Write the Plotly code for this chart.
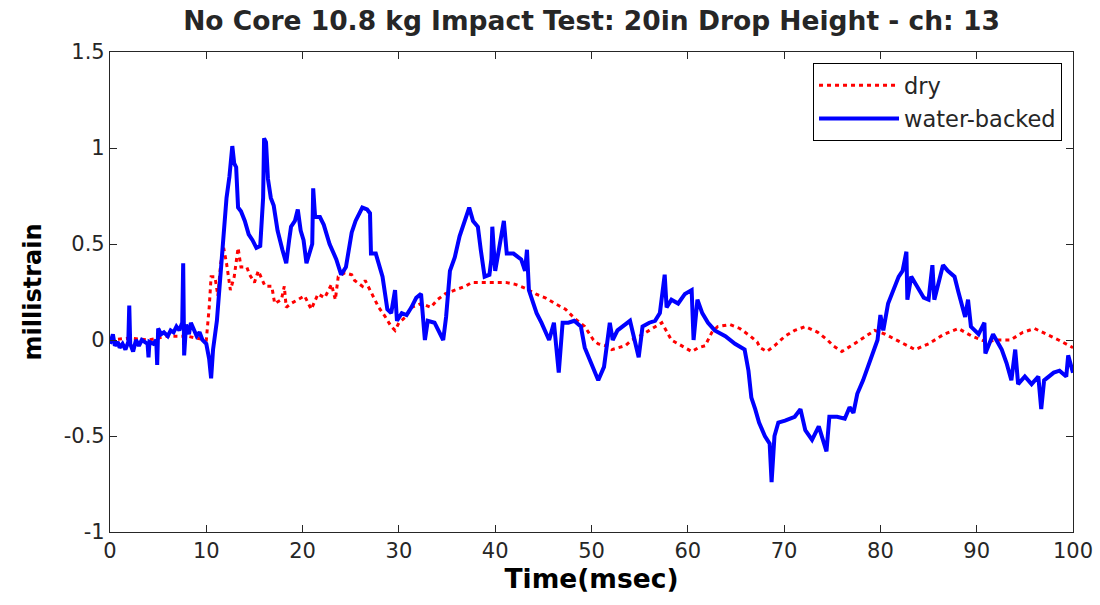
import plotly.graph_objects as go

# water-backed (blue) trace
wet_t = [0.0, 0.3, 0.5, 0.8, 1.0, 1.3, 1.6, 1.9, 2.0, 2.1, 2.4, 2.7, 3.0, 3.3, 3.6, 3.9, 4.0, 4.1, 4.5, 4.8,
         4.9, 5.0, 5.3, 5.6, 6.0, 6.3, 6.6, 6.9, 7.2, 7.5, 7.6, 7.7, 7.9, 8.2, 8.4, 8.7, 9.0, 9.3, 9.6, 10.0,
         10.3, 10.5, 10.7, 11.1, 11.4, 11.8, 12.1, 12.4, 12.7, 12.9, 13.1, 13.3, 13.6, 14.0, 14.4, 14.8, 15.2, 15.6, 15.9, 16.0,
         16.2, 16.4, 16.7, 17.0, 17.4, 17.9, 18.3, 18.6, 18.8, 19.2, 19.5, 19.8, 20.1, 20.4, 20.8, 21.0, 21.1, 21.3, 21.8, 22.2,
         22.8, 23.5, 24.0, 24.5, 25.1, 25.5, 26.2, 26.7, 27.0, 27.1, 27.6, 28.3, 28.8, 29.2, 29.6, 29.8, 30.3, 30.8, 31.3, 31.8,
         32.3, 32.7, 33.0, 33.7, 34.6, 34.9, 35.3, 35.8, 36.3, 36.8, 37.3, 37.7, 38.2, 38.5, 38.9, 39.4, 39.6, 39.7, 40.0, 40.9,
         41.2, 41.9, 42.7, 43.1, 43.3, 43.5, 44.3, 44.8, 45.6, 46.1, 46.6, 47.0, 47.6, 48.2, 48.9, 49.3, 50.0, 50.7, 51.3, 51.9,
         52.2, 52.7, 54.0, 54.9, 55.3, 56.0, 56.6, 57.1, 57.6, 57.8, 58.3, 59.0, 59.7, 60.4, 60.6, 61.0, 61.5, 62.1, 62.8, 63.9,
         64.9, 65.9, 66.3, 66.6, 67.0, 67.4, 68.0, 68.5, 68.7, 69.0, 69.4, 70.1, 71.1, 71.7, 72.2, 72.9, 73.6, 74.4, 74.7, 75.5,
         76.3, 76.8, 77.2, 77.6, 78.2, 78.7, 79.2, 79.7, 80.0, 80.3, 80.8, 81.3, 81.9, 82.3, 82.7, 82.8, 83.2, 83.8, 84.5, 85.0,
         85.4, 85.6, 86.1, 86.5, 87.0, 87.7, 88.1, 88.8, 89.1, 89.4, 90.2, 90.8, 90.9, 91.7, 92.6, 93.1, 93.6, 94.0, 94.3, 95.0,
         95.7, 96.4, 96.7, 97.0, 98.0, 98.6, 99.3, 99.5, 100.0]
wet_v = [-0.02, 0.03, -0.03, -0.01, -0.04, -0.02, -0.05, -0.01, 0.18, -0.02, -0.06, 0.00, -0.03, 0.00, -0.01, -0.02, -0.09, -0.01, -0.02, 0.00,
         -0.13, 0.06, 0.03, 0.04, 0.02, 0.05, 0.04, 0.07, 0.05, 0.09, 0.40, -0.08, 0.08, 0.03, 0.09, 0.05, 0.02, 0.04, 0.00, -0.02,
         -0.10, -0.20, -0.05, 0.10, 0.28, 0.57, 0.74, 0.85, 1.01, 0.92, 0.90, 0.69, 0.67, 0.62, 0.55, 0.52, 0.48, 0.49, 0.74, 1.05,
         1.03, 0.84, 0.74, 0.70, 0.57, 0.47, 0.40, 0.52, 0.59, 0.62, 0.68, 0.57, 0.52, 0.40, 0.48, 0.50, 0.79, 0.64, 0.64, 0.60,
         0.50, 0.42, 0.34, 0.38, 0.56, 0.62, 0.69, 0.68, 0.66, 0.45, 0.45, 0.33, 0.16, 0.14, 0.26, 0.10, 0.14, 0.13, 0.17, 0.22,
         0.24, 0.00, 0.10, 0.09, 0.00, 0.12, 0.36, 0.43, 0.54, 0.62, 0.69, 0.62, 0.59, 0.47, 0.33, 0.34, 0.42, 0.59, 0.36, 0.62,
         0.45, 0.45, 0.42, 0.36, 0.47, 0.26, 0.14, 0.09, 0.00, 0.09, -0.17, 0.09, 0.09, 0.10, 0.07, -0.04, -0.12, -0.21, -0.14, 0.09,
         0.00, 0.05, 0.10, -0.09, 0.07, 0.09, 0.10, 0.14, 0.34, 0.17, 0.21, 0.19, 0.24, 0.26, 0.00, 0.21, 0.14, 0.09, 0.05, 0.02,
         -0.02, -0.05, -0.16, -0.30, -0.36, -0.43, -0.50, -0.54, -0.74, -0.50, -0.43, -0.42, -0.40, -0.36, -0.47, -0.52, -0.45, -0.58, -0.40, -0.40,
         -0.41, -0.35, -0.38, -0.28, -0.21, -0.14, -0.07, 0.00, 0.13, 0.05, 0.19, 0.26, 0.33, 0.36, 0.46, 0.21, 0.33, 0.28, 0.22, 0.21,
         0.39, 0.21, 0.30, 0.39, 0.36, 0.33, 0.25, 0.12, 0.21, 0.07, 0.03, 0.09, -0.07, 0.03, -0.05, -0.12, -0.21, -0.05, -0.23, -0.19,
         -0.23, -0.19, -0.36, -0.21, -0.17, -0.16, -0.19, -0.08, -0.17]

# dry (red dotted) trace
dry_t = [0, 2, 4, 6, 8, 9, 10.0, 10.3, 10.5, 10.9, 11.2, 11.5, 11.8, 12.1, 12.5, 12.9, 13.3, 13.6, 14.2, 14.5,
         15.0, 15.4, 15.8, 16.1, 16.8, 17.1, 17.8, 18.1, 18.3, 18.8, 19.5, 20.2, 20.9, 21.6, 22.3, 23.0, 23.4, 23.7, 24.4, 25.1,
         25.4, 26.2, 26.5, 27.2, 27.9, 28.6, 29.2, 29.6, 30.0, 30.7, 31.3, 32.3, 33.3, 34.0, 34.8, 35.8, 36.9, 37.6, 39.0, 40.0,
         41.1, 42.1, 43.1, 44.2, 45.2, 46.2, 47.3, 48.3, 49.3, 50.2, 50.7, 51.5, 52.1, 52.8, 53.5, 54.2, 55.0, 56.0, 57.3, 58.3,
         59.0, 59.7, 60.4, 61.1, 61.8, 62.5, 63.1, 64.4, 65.4, 66.5, 67.2, 67.5, 68.2, 69.0, 70.1, 71.1, 72.2, 73.5, 74.5, 75.1,
         76.0, 77.3, 78.5, 79.4, 80.5, 82.0, 83.6, 85.0, 86.6, 88.1, 89.5, 91.0, 92.0, 93.5, 94.8, 96.0, 97.3, 98.5, 100.0]
dry_v = [0.00, 0.01, 0.00, 0.02, 0.02, 0.01, 0.00, 0.17, 0.33, 0.33, 0.23, 0.40, 0.48, 0.40, 0.26, 0.33, 0.48, 0.38, 0.38, 0.34,
         0.30, 0.36, 0.31, 0.28, 0.28, 0.19, 0.21, 0.28, 0.17, 0.19, 0.21, 0.23, 0.16, 0.24, 0.22, 0.29, 0.21, 0.33, 0.35, 0.34,
         0.31, 0.28, 0.31, 0.24, 0.17, 0.12, 0.07, 0.05, 0.09, 0.12, 0.17, 0.19, 0.17, 0.21, 0.24, 0.26, 0.28, 0.30, 0.30, 0.30,
         0.30, 0.29, 0.27, 0.24, 0.22, 0.19, 0.16, 0.11, 0.07, 0.00, -0.02, -0.03, -0.05, -0.04, -0.03, 0.00, 0.02, 0.05, 0.09, 0.00,
         -0.02, -0.04, -0.06, -0.04, -0.03, 0.04, 0.07, 0.08, 0.06, 0.02, -0.01, -0.04, -0.06, -0.03, 0.02, 0.05, 0.07, 0.04, 0.00, -0.03,
         -0.06, -0.02, 0.02, 0.05, 0.03, -0.01, -0.05, -0.02, 0.03, 0.06, 0.02, -0.01, 0.00, 0.00, 0.04, 0.06, 0.03, 0.00, -0.04]

x_ticks = [0, 10, 20, 30, 40, 50, 60, 70, 80, 90, 100]
y_ticks = [-1, -0.5, 0, 0.5, 1, 1.5]
y_tick_text = ["-1", "-0.5", "0", "0.5", "1", "1.5"]

FONT = "DejaVu Sans, Liberation Sans, Arial, sans-serif"
TXT = "#262626"

fig = go.Figure()
fig.add_trace(go.Scatter(x=dry_t, y=dry_v, mode="lines", name="dry", legendgroup="a",
                         line=dict(color="#ff0000", width=3, dash="4px,4px")))
fig.add_trace(go.Scatter(x=wet_t, y=wet_v, mode="lines", name="water-backed", legendgroup="b",
                         line=dict(color="#0000ff", width=4)))

axis_common = dict(showline=True, linecolor=TXT, linewidth=1.2, mirror="ticks",
                   ticks="inside", ticklen=7, tickcolor=TXT, showgrid=False, automargin=False,
                   zeroline=False, tickfont=dict(family=FONT, size=21, color=TXT))

fig.update_layout(
    width=1100, height=605,
    paper_bgcolor="white", plot_bgcolor="white",
    margin=dict(l=110, r=27, t=52, b=73, autoexpand=False),
    title=dict(text="<b>No Core 10.8 kg Impact Test: 20in Drop Height - ch: 13</b>",
               x=(110 + 1073) / 2 / 1100, xanchor="center", y=1 - 21 / 605, yanchor="middle",
               font=dict(family=FONT, size=26.5, color=TXT)),
    xaxis=dict(range=[0, 100], tickvals=x_ticks,
               title=dict(text="<b>Time(msec)</b>", font=dict(family=FONT, size=26.5, color="black"), standoff=4),
               **axis_common),
    yaxis=dict(range=[-1, 1.5], tickvals=y_ticks, ticktext=y_tick_text,
               title=dict(text="<b>millistrain</b>", font=dict(family=FONT, size=24, color="black"), standoff=15),
               **axis_common),
    legend=dict(x=0.9886, y=0.977, xanchor="right", yanchor="top",
                bgcolor="white", bordercolor="black", borderwidth=1,
                font=dict(family=FONT, size=22.5, color=TXT), itemwidth=80,
                traceorder="grouped", tracegroupgap=1),
    showlegend=True,
)

fig.write_html("out.html")
